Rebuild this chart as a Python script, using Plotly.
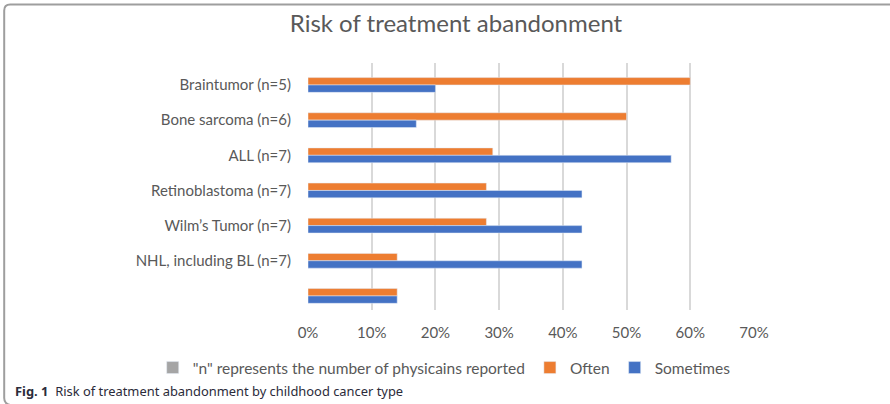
import plotly.graph_objects as go

# Cancer types, top to bottom (last row has no label)
categories = [
    "Braintumor (n=5)",
    "Bone sarcoma (n=6)",
    "ALL (n=7)",
    "Retinoblastoma (n=7)",
    "Wilm\u2019s Tumor (n=7)",
    "NHL, including BL (n=7)",
    " ",
]
# Share of physicians reporting abandonment risk, in percent
often = [60, 50, 29, 28, 28, 14, 14]
sometimes = [20, 17, 57, 43, 43, 43, 14]

tick_values = [0, 0.1, 0.2, 0.3, 0.4, 0.5, 0.6, 0.7]
tick_labels = ["0%", "10%", "20%", "30%", "40%", "50%", "60%", "70%"]

W, H = 890, 404
L, R, T, B = 308.3, 754.3, 63, 310  # plot-area edges in pixels


def px(x):
    return (x - L) / (R - L)


def py(y):
    return (B - y) / (B - T)


FONT = "Lato"
GRAY_TXT = "#595959"

fig = go.Figure()

# Legend-only entry for the note about "n"
fig.add_trace(go.Bar(
    x=[None], y=[categories[0]], orientation="h",
    name="\"n\" represents the number of physicains reported",
    marker_color="#A5A5A5",
))
fig.add_trace(go.Bar(
    x=[v / 100 for v in often], y=categories, orientation="h",
    name="Often", marker_color="#ED7D31",
    width=0.21, offset=-0.21,
))
fig.add_trace(go.Bar(
    x=[v / 100 for v in sometimes], y=categories, orientation="h",
    name="Sometimes", marker_color="#4472C4",
    width=0.21, offset=0.0,
))

# Rounded outer frame (open on the right / bottom)
r = 6
path = (
    f"M {px(W + 5)} {py(4.5)} L {px(4.5 + r)} {py(4.5)} "
    f"Q {px(4.5)} {py(4.5)} {px(4.5)} {py(4.5 + r)} "
    f"L {px(4.5)} {py(398)} Q {px(4.5)} {py(404)} {px(4.5 + r)} {py(405)}"
)

fig.update_layout(
    width=W, height=H,
    margin=dict(l=L, r=W - R, t=T, b=H - B, autoexpand=False),
    paper_bgcolor="white", plot_bgcolor="white",
    barmode="overlay",
    font=dict(family=FONT, color=GRAY_TXT, size=15),
    title=dict(
        text="Risk of treatment abandonment",
        x=456 / W, xref="container", xanchor="center",
        y=1 - 24 / H, yref="container", yanchor="middle",
        font=dict(family=FONT, size=24, color=GRAY_TXT),
    ),
    xaxis=dict(
        range=[0, 0.7], tickvals=tick_values, ticktext=tick_labels,
        showgrid=True, gridcolor="#D9D9D9", gridwidth=2,
        zeroline=False, showline=False, ticks="",
        ticklabelstandoff=12,
        tickfont=dict(size=15, color=GRAY_TXT),
    ),
    yaxis=dict(
        type="category",
        categoryorder="array", categoryarray=categories,
        range=[6.4, -0.625],
        showgrid=False, zeroline=False, showline=False, ticks="",
        ticklabelstandoff=16,
        tickfont=dict(size=15, color=GRAY_TXT),
    ),
    legend=dict(
        orientation="h",
        x=px(153), xanchor="left",
        y=py(368), yanchor="middle",
        font=dict(size=15.5, color=GRAY_TXT),
        traceorder="normal",
        bgcolor="rgba(0,0,0,0)",
    ),
    shapes=[dict(
        type="path", path=path, xref="paper", yref="paper",
        line=dict(color="#9E9E9E", width=2),
    )],
    annotations=[dict(
        text="<b>Fig. 1</b>&nbsp;&nbsp;Risk of treatment abandonment by childhood cancer type",
        xref="paper", yref="paper", x=px(13), y=py(391),
        xanchor="left", yanchor="middle", showarrow=False,
        font=dict(family="Noto Sans", size=12.9, color="#2B2B3A"),
    )],
)

fig.write_html("out.html")
